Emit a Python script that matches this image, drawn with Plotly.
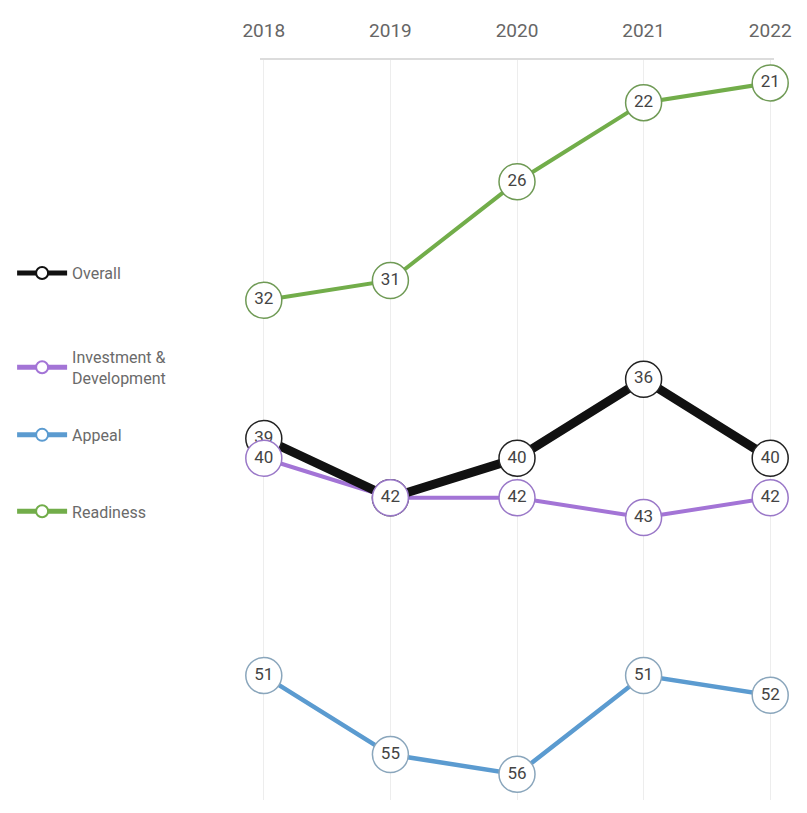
import plotly.graph_objects as go

years = [2018, 2019, 2020, 2021, 2022]

series_names = ["Overall", "Investment &<br>Development", "Appeal", "Readiness"]
overall = [39, 42, 40, 36, 40]
investment = [40, 42, 42, 43, 42]
appeal = [51, 55, 56, 51, 52]
readiness = [32, 31, 26, 22, 21]

colors = {
    "Overall": "#111111",
    "Investment &<br>Development": "#a374d6",
    "Appeal": "#5b9bd0",
    "Readiness": "#72ad4a",
}
widths = {
    "Overall": 9,
    "Investment &<br>Development": 4,
    "Appeal": 4.5,
    "Readiness": 4,
}
outlines = {
    "Overall": "#222222",
    "Investment &<br>Development": "#9a78c8",
    "Appeal": "#8aa6bc",
    "Readiness": "#6f9a55",
}
values = {
    "Overall": overall,
    "Investment &<br>Development": investment,
    "Appeal": appeal,
    "Readiness": readiness,
}
legend_ids = {
    "Overall": "legend",
    "Investment &<br>Development": "legend2",
    "Appeal": "legend3",
    "Readiness": "legend4",
}
legend_y = {
    "Overall": 0.664,
    "Investment &<br>Development": 0.548,
    "Appeal": 0.465,
    "Readiness": 0.371,
}

font_family = "Roboto, sans-serif"

fig = go.Figure()

# connecting lines (legend entries)
line_order = ["Readiness", "Appeal", "Investment &<br>Development", "Overall"]
for name in line_order:
    fig.add_trace(go.Scatter(
        x=years, y=values[name], name=name, mode="lines+markers",
        line=dict(color=colors[name], width=widths[name]),
        marker=dict(size=10, color="white",
                    line=dict(color=colors[name], width=2)),
        legend=legend_ids[name], cliponaxis=False, hoverinfo="skip",
    ))

# rank bubbles with their values
marker_order = ["Readiness", "Appeal", "Overall", "Investment &<br>Development"]
for name in marker_order:
    fig.add_trace(go.Scatter(
        x=years, y=values[name], mode="markers+text",
        text=[str(v) for v in values[name]], textposition="middle center",
        textfont=dict(size=17, color="#444444", family=font_family),
        marker=dict(size=36, color="white",
                    line=dict(color=outlines[name], width=1.5)),
        showlegend=False, cliponaxis=False,
    ))

layout_legends = {}
for name in series_names:
    layout_legends[legend_ids[name]] = dict(
        x=0.015, y=legend_y[name], xref="container", yref="container",
        xanchor="left", yanchor="middle", bgcolor="rgba(0,0,0,0)",
        font=dict(size=16, color="#6a6a6a", family=font_family),
        itemsizing="constant", itemwidth=50,
    )

fig.update_layout(
    width=807, height=813,
    margin=dict(l=260, r=33, t=60, b=13),
    plot_bgcolor="white", paper_bgcolor="white",
    xaxis=dict(
        side="top", range=[2017.97, 2022.03], tickvals=years,
        ticktext=[str(y) for y in years],
        showgrid=True, gridcolor="#ededed", gridwidth=1,
        showline=True, linecolor="#dcdcdc", linewidth=1.5,
        ticks="outside", ticklen=14, tickcolor="rgba(0,0,0,0)",
        tickfont=dict(size=19, color="#666666", family=font_family),
        zeroline=False, fixedrange=True,
    ),
    yaxis=dict(
        range=[57.3, 19.84], showgrid=False, showticklabels=False,
        zeroline=False, showline=False, fixedrange=True,
    ),
    **layout_legends,
)

fig.write_html("out.html")
